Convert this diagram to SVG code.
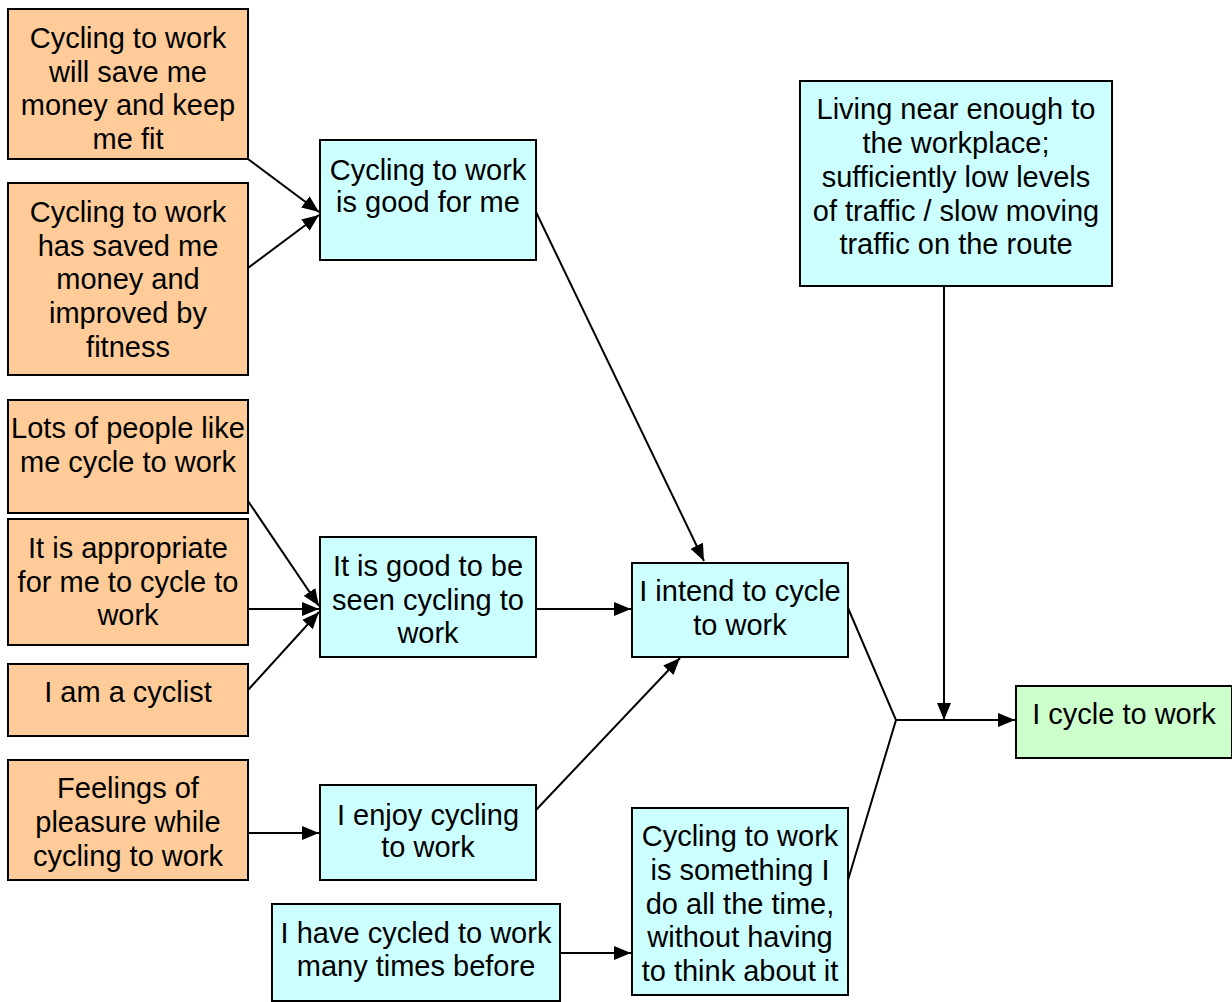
<svg xmlns="http://www.w3.org/2000/svg" width="1232" height="1002" viewBox="0 0 1232 1002">
  <defs>
    <style>
      .box { stroke: #000; stroke-width: 2; }
      .orange { fill: #FFCC99; }
      .cyan { fill: #CCFFFF; }
      .green { fill: #CCFFCC; }
      text { font-family: "Liberation Sans", Arial, sans-serif; font-size: 29px; fill: #000; text-anchor: middle; }
      .link { fill: none; stroke: #000; stroke-width: 2; }
    </style>
    <marker id="arrow" viewBox="0 0 17 14" refX="17" refY="7" markerWidth="17" markerHeight="14" markerUnits="userSpaceOnUse" orient="auto">
      <path d="M0,0 L17,7 L0,14 z" fill="#000"/>
    </marker>
  </defs>

  <rect width="1232" height="1002" fill="#fff"/>

  <!-- connectors -->
  <g id="connectors">
    <line class="link" x1="248" y1="159" x2="319" y2="212" marker-end="url(#arrow)"/>
    <line class="link" x1="248" y1="268" x2="319" y2="215" marker-end="url(#arrow)"/>
    <line class="link" x1="536" y1="212" x2="704" y2="561" marker-end="url(#arrow)"/>
    <line class="link" x1="248" y1="501" x2="319" y2="606" marker-end="url(#arrow)"/>
    <line class="link" x1="248" y1="609" x2="319" y2="609" marker-end="url(#arrow)"/>
    <line class="link" x1="248" y1="690" x2="319" y2="612" marker-end="url(#arrow)"/>
    <line class="link" x1="536" y1="609" x2="631" y2="609" marker-end="url(#arrow)"/>
    <line class="link" x1="536" y1="810" x2="680" y2="658" marker-end="url(#arrow)"/>
    <line class="link" x1="248" y1="833" x2="319" y2="833" marker-end="url(#arrow)"/>
    <line class="link" x1="560" y1="953" x2="631" y2="953" marker-end="url(#arrow)"/>
    <polyline class="link" points="848,608 896,720 848,880"/>
    <line class="link" x1="896" y1="720" x2="1015" y2="720" marker-end="url(#arrow)"/>
    <line class="link" x1="944" y1="286" x2="944" y2="720" marker-end="url(#arrow)"/>
  </g>

  <!-- beliefs -->
  <g id="saveMoney">
    <rect class="box orange" x="8" y="9" width="240" height="150"/>
    <text x="128" y="48">Cycling to work</text>
    <text x="128" y="82">will save me</text>
    <text x="128" y="115">money and keep</text>
    <text x="128" y="149">me fit</text>
  </g>
  <g id="savedMoney">
    <rect class="box orange" x="8" y="183" width="240" height="192"/>
    <text x="128" y="222">Cycling to work</text>
    <text x="128" y="256">has saved me</text>
    <text x="128" y="289">money and</text>
    <text x="128" y="323">improved by</text>
    <text x="128" y="357">fitness</text>
  </g>
  <g id="peopleLikeMe">
    <rect class="box orange" x="8" y="400" width="240" height="113"/>
    <text x="128" y="438">Lots of people like</text>
    <text x="128" y="472">me cycle to work</text>
  </g>
  <g id="appropriate">
    <rect class="box orange" x="8" y="519" width="240" height="126"/>
    <text x="128" y="558">It is appropriate</text>
    <text x="128" y="592">for me to cycle to</text>
    <text x="128" y="625">work</text>
  </g>
  <g id="cyclist">
    <rect class="box orange" x="8" y="664" width="240" height="72"/>
    <text x="128" y="702">I am a cyclist</text>
  </g>
  <g id="pleasure">
    <rect class="box orange" x="8" y="760" width="240" height="120"/>
    <text x="128" y="798">Feelings of</text>
    <text x="128" y="832">pleasure while</text>
    <text x="128" y="866">cycling to work</text>
  </g>

  <!-- attitudes and norms -->
  <g id="goodForMe">
    <rect class="box cyan" x="320" y="140" width="216" height="120"/>
    <text x="428" y="180">Cycling to work</text>
    <text x="428" y="212">is good for me</text>
  </g>
  <g id="goodToBeSeen">
    <rect class="box cyan" x="320" y="537" width="216" height="120"/>
    <text x="428" y="576">It is good to be</text>
    <text x="428" y="610">seen cycling to</text>
    <text x="428" y="643">work</text>
  </g>
  <g id="enjoy">
    <rect class="box cyan" x="320" y="785" width="216" height="95"/>
    <text x="428" y="825">I enjoy cycling</text>
    <text x="428" y="857">to work</text>
  </g>
  <g id="pastBehaviour">
    <rect class="box cyan" x="272" y="904" width="288" height="97"/>
    <text x="416" y="943">I have cycled to work</text>
    <text x="416" y="976">many times before</text>
  </g>
  <g id="intention">
    <rect class="box cyan" x="632" y="563" width="216" height="94"/>
    <text x="740" y="601">I intend to cycle</text>
    <text x="740" y="635">to work</text>
  </g>
  <g id="habit">
    <rect class="box cyan" x="632" y="808" width="216" height="187"/>
    <text x="740" y="846">Cycling to work</text>
    <text x="740" y="880">is something I</text>
    <text x="740" y="914">do all the time,</text>
    <text x="740" y="947">without having</text>
    <text x="740" y="981">to think about it</text>
  </g>
  <g id="conditions">
    <rect class="box cyan" x="800" y="81" width="312" height="205"/>
    <text x="956" y="119">Living near enough to</text>
    <text x="956" y="153">the workplace;</text>
    <text x="956" y="187">sufficiently low levels</text>
    <text x="956" y="221">of traffic / slow moving</text>
    <text x="956" y="254">traffic on the route</text>
  </g>

  <!-- behaviour -->
  <g id="behaviour">
    <rect class="box green" x="1016" y="686" width="216" height="72"/>
    <text x="1124" y="724">I cycle to work</text>
  </g>
</svg>
